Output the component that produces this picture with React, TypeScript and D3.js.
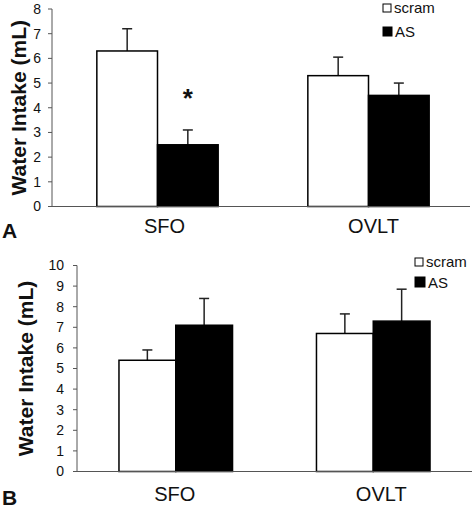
import React from "react";
import * as d3 from "d3";

const categories = ["SFO", "OVLT"];
const seriesNames = ["scram", "AS"];

const panelAScram = [6.3, 5.3];
const panelAScramErr = [0.9, 0.75];
const panelAAS = [2.5, 4.5];
const panelAASErr = [0.6, 0.5];

const panelBScram = [5.4, 6.7];
const panelBScramErr = [0.5, 0.95];
const panelBAS = [7.1, 7.3];
const panelBASErr = [1.3, 1.55];

const ticksA = [0, 1, 2, 3, 4, 5, 6, 7, 8];
const ticksB = [0, 1, 2, 3, 4, 5, 6, 7, 8, 9, 10];

const FONT = "'Liberation Sans', Arial, sans-serif";
const AXIS = "#555";

type PanelProps = {
  letter: string;
  scram: number[];
  scramErr: number[];
  as: number[];
  asErr: number[];
  ticks: number[];
  yMax: number;
  xLeft: number;
  xRight: number;
  axisEnd: number;
  yTop: number;
  yBottom: number;
  titleX: number;
  titleSize: number;
  labelX: number;
  letterY: number;
  catY: number;
  catOffset: number[];
  legendX: number;
  legendY: number[];
  legendSq: number[];
  star?: boolean;
};

function Panel(p: PanelProps) {
  const x0 = d3
    .scaleBand<string>()
    .domain(categories)
    .range([p.xLeft, p.xRight])
    .paddingInner(0.425)
    .paddingOuter(0.2125);
  const x1 = d3
    .scaleBand<string>()
    .domain(seriesNames)
    .range([0, x0.bandwidth()]);
  const y = d3.scaleLinear().domain([0, p.yMax]).range([p.yBottom, p.yTop]);
  const values: Record<string, number[]> = { scram: p.scram, AS: p.as };
  const errs: Record<string, number[]> = { scram: p.scramErr, AS: p.asErr };
  const axisX = p.xLeft;

  return (
    <g>
      {categories.map((c, i) =>
        seriesNames.map((s) => {
          const v = values[s][i];
          const e = errs[s][i];
          const bx = (x0(c) as number) + (x1(s) as number);
          const bw = x1.bandwidth();
          const cx = bx + bw / 2;
          return (
            <g key={c + s}>
              <line x1={cx} x2={cx} y1={y(v)} y2={y(v + e)} stroke="#222" strokeWidth={1.5} />
              <line x1={cx - 5} x2={cx + 5} y1={y(v + e)} y2={y(v + e)} stroke="#222" strokeWidth={1.5} />
              <rect
                x={bx}
                y={y(v)}
                width={bw}
                height={y(0) - y(v)}
                fill={s === "scram" ? "#fff" : "#000"}
                stroke="#000"
                strokeWidth={1.5}
              />
            </g>
          );
        })
      )}
      <line x1={axisX} x2={axisX} y1={y(p.yMax)} y2={y(0)} stroke={AXIS} strokeWidth={1} />
      {p.ticks.map((t) => (
        <g key={t}>
          <line x1={axisX - 4} x2={axisX} y1={y(t)} y2={y(t)} stroke={AXIS} strokeWidth={1} />
          <text
            x={p.labelX}
            y={y(t)}
            dy="0.35em"
            textAnchor="end"
            fontFamily={FONT}
            fontSize={14}
            fill="#111"
          >
            {t}
          </text>
        </g>
      ))}
      <line x1={axisX - 4} x2={p.axisEnd} y1={y(0)} y2={y(0)} stroke={AXIS} strokeWidth={1} />
      {categories.map((c, i) => (
        <text
          key={c}
          x={(x0(c) as number) + x0.bandwidth() / 2 + p.catOffset[i]}
          y={p.catY}
          textAnchor="middle"
          fontFamily={FONT}
          fontSize={20}
          fill="#111"
        >
          {c}
        </text>
      ))}
      <text
        transform={`translate(${p.titleX},${(y(0) + y(p.yMax)) / 2}) rotate(-90)`}
        textAnchor="middle"
        fontFamily={FONT}
        fontWeight="bold"
        fontSize={p.titleSize}
        fill="#111"
      >
        Water Intake (mL)
      </text>
      <text x={2} y={p.letterY} fontFamily={FONT} fontWeight="bold" fontSize={21} fill="#111">
        {p.letter}
      </text>
      {seriesNames.map((s, i) => (
        <g key={s}>
          <rect
            x={p.legendX}
            y={p.legendY[i] - p.legendSq[i] - 1}
            width={p.legendSq[i]}
            height={p.legendSq[i]}
            fill={s === "scram" ? "#fff" : "#000"}
            stroke="#000"
            strokeWidth={1}
          />
          <text
            x={p.legendX + p.legendSq[i] + 3}
            y={p.legendY[i]}
            fontFamily={FONT}
            fontSize={15}
            fill="#111"
          >
            {s}
          </text>
        </g>
      ))}
      {p.star && (
        <text
          x={(x0("SFO") as number) + (x1("AS") as number) + x1.bandwidth() / 2}
          y={y(p.as[0] + p.asErr[0]) - 23}
          textAnchor="middle"
          fontFamily={FONT}
          fontWeight="bold"
          fontSize={26}
          fill="#111"
        >
          *
        </text>
      )}
    </g>
  );
}

export default function App() {
  return (
    <svg
      width={475}
      height={509}
      style={{ position: "absolute", left: 0, top: 0, background: "#fff" }}
    >
      <rect width={475} height={509} fill="#fff" />
      <Panel
        letter="A"
        scram={panelAScram}
        scramErr={panelAScramErr}
        as={panelAAS}
        asErr={panelAASErr}
        ticks={ticksA}
        yMax={8}
        xLeft={52}
        xRight={474}
        axisEnd={470}
        yTop={9}
        yBottom={206.5}
        titleX={26}
        titleSize={21}
        labelX={41}
        letterY={238}
        catY={233}
        catOffset={[7, 5]}
        legendX={383}
        legendY={[13, 37]}
        legendSq={[8, 9]}
        star
      />
      <Panel
        letter="B"
        scram={panelBScram}
        scramErr={panelBScramErr}
        as={panelBAS}
        asErr={panelBASErr}
        ticks={ticksB}
        yMax={10}
        xLeft={77}
        xRight={472}
        axisEnd={472}
        yTop={265.5}
        yBottom={471.5}
        titleX={33}
        titleSize={21}
        labelX={64}
        letterY={505}
        catY={501}
        catOffset={[-1, 8]}
        legendX={415}
        legendY={[267, 288]}
        legendSq={[8, 10]}
      />
    </svg>
  );
}
